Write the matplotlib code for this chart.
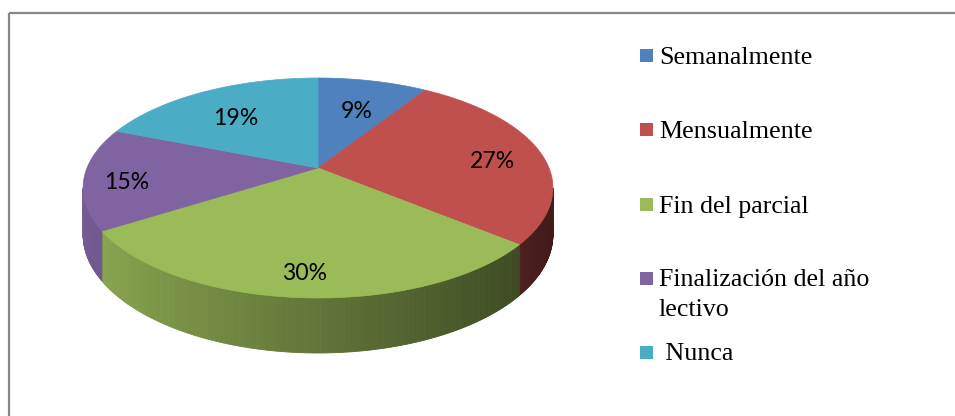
import numpy as np
import matplotlib
matplotlib.use('Agg')
import matplotlib.pyplot as plt
from matplotlib.collections import PolyCollection
from matplotlib.patches import Polygon, Rectangle

labels = ['Semanalmente', 'Mensualmente', 'Fin del parcial',
          'Finalización del año\nlectivo', ' Nunca']
values = [9, 27, 30, 15, 19]
colors = ['#4F81BD', '#C0504D', '#9BBB59', '#8064A2', '#4BACC6']

# geometry of the tilted pie (pixels)
CX, CY = 318, 168
RX = 231
B = 75.8
K = -0.1818
D = 45.0


def proj(theta, r=1.0):
    X = r * np.sin(theta)
    Z = -r * np.cos(theta)
    w = 1 + K * Z
    return CX + RX * X / w, (CY + B * Z) / w, D / w, X


def shade(col, X):
    c = np.array(matplotlib.colors.to_rgb(col))
    f = np.clip(0.625 - 0.3 * X, 0, 1)
    return tuple(c * f)


fig = plt.figure(figsize=(9.55, 4.16), dpi=100)
ax = fig.add_axes([0, 0, 1, 1])
ax.set_xlim(0, 955)
ax.set_ylim(416, 0)
ax.axis('off')

frac = np.array(values) / sum(values)
edges = np.concatenate([[0], np.cumsum(frac)]) * 2 * np.pi
t1 = np.arccos(K)          # visible side starts
t2 = 2 * np.pi - t1

# sides
for i, col in enumerate(colors):
    a, b = max(edges[i], t1), min(edges[i + 1], t2)
    if b <= a:
        continue
    ts = np.linspace(a, b, max(3, int(np.degrees(b - a) * 2)))
    quads, fcs = [], []
    for ta, tb in zip(ts[:-1], ts[1:]):
        xa, ya, da, Xa = proj(ta)
        xb, yb, db, Xb = proj(tb)
        quads.append([(xa, ya), (xb, yb), (xb, yb + db), (xa, ya + da)])
        fcs.append(shade(col, (Xa + Xb) / 2))
    ax.add_collection(PolyCollection(quads, facecolors=fcs, edgecolors=fcs,
                                     linewidths=0.6))

# top faces
for i, col in enumerate(colors):
    ts = np.linspace(edges[i], edges[i + 1], 200)
    x, y, _, _ = proj(ts)
    pts = [(CX, CY)] + list(zip(x, y))
    ax.add_patch(Polygon(pts, closed=True, facecolor=col, edgecolor=col,
                         linewidth=0.5))

# percentage labels
label_r = [0.68, 0.78, 0.8, 0.82, 0.7]
for i, v in enumerate(values):
    tm = (edges[i] + edges[i + 1]) / 2
    x, y, _, _ = proj(tm, label_r[i])
    ax.text(x, y + 6, f'{v}%', ha='center', va='center', fontsize=16.6,
            family='Lato', color='black')

# legend
leg_y = [55, 129, 204, 278, 352]
for lab, col, y in zip(labels, colors, leg_y):
    ax.add_patch(Rectangle((640, y - 6.5), 13, 13, facecolor=col,
                           edgecolor='none'))
    for j, line in enumerate(lab.split('\n')):
        ax.text(659, y + 8.5 + j * 30, line, ha='left', va='baseline',
                fontsize=18.7, family='Liberation Serif', color='black')

# frame
ax.plot([9, 955], [13, 13], color='#878787', lw=1.6, solid_capstyle='butt')
ax.plot([9, 9], [13, 416], color='#878787', lw=1.6, solid_capstyle='butt')

fig.savefig('out.png', dpi=100)
